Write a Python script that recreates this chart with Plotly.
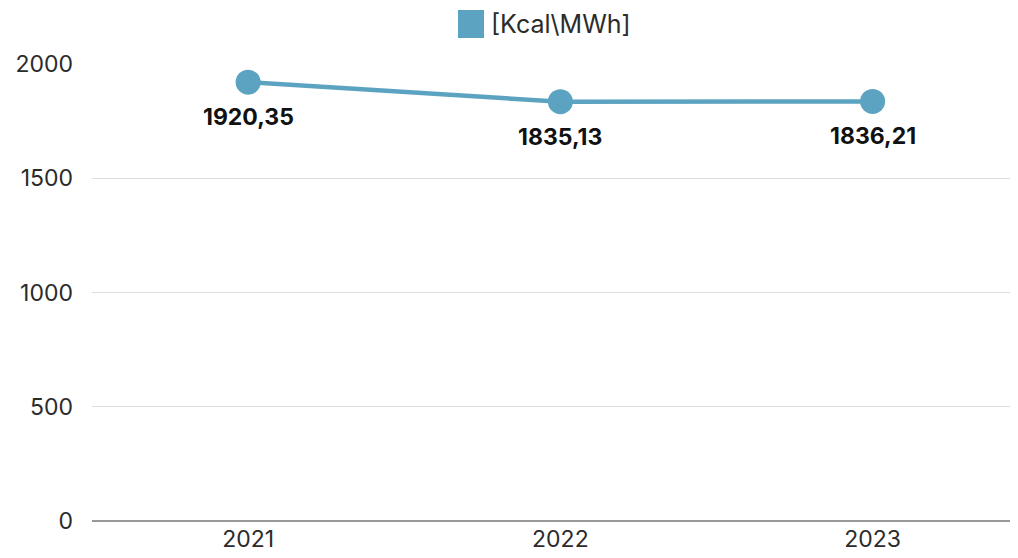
import plotly.graph_objects as go

years = ["2021", "2022", "2023"]
kcal_per_mwh = [1920.35, 1835.13, 1836.21]
series_name = "[Kcal\\MWh]"
y_ticks = [0, 500, 1000, 1500, 2000]

line_color = "#5BA3C0"
text_color = "#2b2b2b"
font_family = "Inter, Lato, 'Open Sans', sans-serif"


def fmt(v):
    return f"{v:.2f}".replace(".", ",")


fig = go.Figure()
fig.add_trace(go.Scatter(
    x=years,
    y=kcal_per_mwh,
    mode="lines+markers",
    name=series_name,
    line=dict(color=line_color, width=4.5),
    marker=dict(color=line_color, size=25),
    showlegend=False,
    cliponaxis=False,
))

# value labels beneath each point (category index positions)
for i, v in enumerate(kcal_per_mwh):
    fig.add_annotation(x=i, y=v, text=fmt(v), showarrow=False,
                       yshift=-35, xanchor="center", yanchor="middle",
                       font=dict(family=font_family, size=23, color="#111111",
                                 weight="bold"))

# legend swatch and label above the plot
fig.add_shape(type="rect", xref="paper", yref="paper",
              x0=(458 - 92) / 918, x1=(484 - 92) / 918,
              y0=1 + (64 - 38) / 457, y1=1 + (64 - 10) / 457,
              fillcolor=line_color, line=dict(width=0))
fig.add_annotation(xref="paper", yref="paper",
                   x=(489 - 92) / 918, y=1 + (64 - 24) / 457,
                   xanchor="left", yanchor="middle", showarrow=False,
                   text=series_name,
                   font=dict(family=font_family, size=25, color=text_color))

fig.update_layout(
    width=1018, height=558,
    margin=dict(l=92, r=8, t=64, b=37),
    paper_bgcolor="white", plot_bgcolor="white",
    font=dict(family=font_family, size=22, color=text_color),
    xaxis=dict(type="category", range=[-0.5, 2.44], showgrid=False,
               showline=False, ticks="", tickfont=dict(size=23),
               ticklabelstandoff=2, automargin=False),
    yaxis=dict(range=[0, 2000], tickvals=y_ticks, showgrid=True,
               gridcolor="#dedede", gridwidth=1.2, zeroline=True,
               zerolinecolor="#999999", zerolinewidth=2, showline=False,
               tickfont=dict(size=23), ticklabelstandoff=18, automargin=False),
)

fig.write_html("out.html")
